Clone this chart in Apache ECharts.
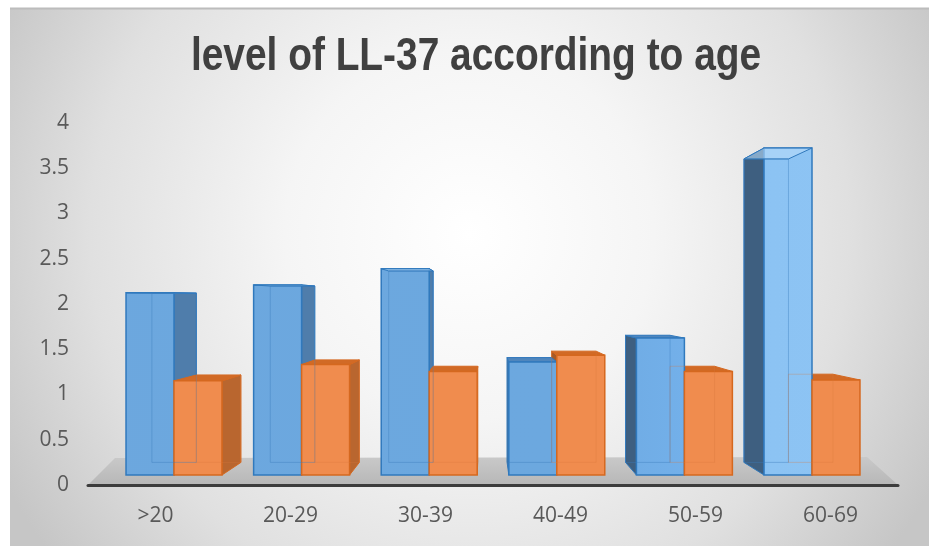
<!DOCTYPE html>
<html>
<head>
<meta charset="utf-8">
<title>level of LL-37 according to age</title>
<script src="https://cdn.jsdelivr.net/npm/echarts@6/dist/echarts.min.js"></script>
<style>
  html, body { margin: 0; padding: 0; background: #ffffff; }
  #chart { width: 929px; height: 546px; }
</style>
</head>
<body>
<div id="chart"></div>
<script>
// Age groups and LL-37 levels for the two series
const categories = ['>20', '20-29', '30-39', '40-49', '50-59', '60-69'];
const blueValues = [2.13, 2.22, 2.41, 1.32, 1.6, 3.82];
const orangeValues = [1.1, 1.29, 1.21, 1.4, 1.21, 1.11];
const yTicks = { min: 0, max: 4, interval: 0.5 };
const chartTitle = 'level of LL-37 according to age';

// Pseudo-3D projection: each box's back face is pulled toward a vanishing point
const VANISH = [485, 300];
const DEPTH = 0.072;
const BAR_FRACTION = 0.376;   // width of one column relative to its category band

function toBack(p) {
  return [p[0] + (VANISH[0] - p[0]) * DEPTH, p[1] + (VANISH[1] - p[1]) * DEPTH];
}

// light falls from the right, so fronts brighten toward the right-hand side
const blueFront = {
  type: 'linear', x: 0, y: 0, x2: 929, y2: 0, global: true,
  colorStops: [
    { offset: 0, color: '#6ca7de' },
    { offset: 0.6, color: '#6ca8df' },
    { offset: 0.74, color: '#73b0ea' },
    { offset: 0.83, color: '#8cc3f3' },
    { offset: 1, color: '#8ec5f5' }
  ]
};

const palettes = {
  blue: {
    front: blueFront, edge: '#3079bd', sideRight: '#4f7dab', sideLeft: '#3e5f80',
    top: '#4f86bd', under: 'rgba(185,220,250,0.6)', inner: 'rgba(60,125,190,0.4)'
  },
  orange: {
    front: '#f08c4e', edge: '#d5681f', sideRight: '#b9662f', sideLeft: '#a85a27',
    top: '#d16a26', under: 'rgba(250,190,150,0.5)', inner: 'rgba(215,120,60,0.3)'
  }
};

function boxRenderer(side, pal) {
  return function (params, api) {
    const cat = api.value(0);
    const val = api.value(1);
    const base = api.coord([cat, 0]);
    const top = api.coord([cat, val]);
    const w = api.size([1, 0])[0] * BAR_FRACTION;
    const x0 = side < 0 ? base[0] - w : base[0];
    const x1 = x0 + w;
    const y0 = top[1];
    const y1 = base[1];
    const fTL = [x0, y0], fTR = [x1, y0], fBR = [x1, y1], fBL = [x0, y1];
    const bTL = toBack(fTL), bTR = toBack(fTR), bBR = toBack(fBR), bBL = toBack(fBL);
    const children = [];

    // visible side wall
    if (x1 < VANISH[0]) {
      children.push({
        type: 'polygon', z2: 1,
        shape: { points: [fTR, bTR, bBR, fBR] },
        style: { fill: pal.sideRight, stroke: pal.edge, lineWidth: 1 }
      });
    } else if (x0 > VANISH[0]) {
      children.push({
        type: 'polygon', z2: 1,
        shape: { points: [fTL, bTL, bBL, fBL] },
        style: { fill: pal.sideLeft, stroke: pal.edge, lineWidth: 1 }
      });
    }

    // front face
    children.push({
      type: 'rect', z2: 5,
      shape: { x: x0, y: y0, width: w, height: y1 - y0 },
      style: { fill: pal.front, stroke: pal.edge, lineWidth: 1.5 }
    });

    // top face (seen from above) or underside glimpsed through the glassy front
    const seenFromAbove = bTL[1] < fTL[1];
    children.push({
      type: 'polygon', z2: seenFromAbove ? 2 : 6,
      shape: { points: [fTL, fTR, bTR, bTL] },
      style: {
        fill: seenFromAbove ? pal.top : pal.under,
        stroke: pal.edge, lineWidth: 1
      }
    });

    // hidden back edges showing faintly through the front face
    children.push({
      type: 'polygon', z2: 6, silent: true,
      shape: { points: [bTL, bTR, bBR, bBL] },
      style: { fill: 'none', stroke: pal.inner, lineWidth: 1 }
    });

    return { type: 'group', children: children };
  };
}

const chart = echarts.init(document.getElementById('chart'), null, { renderer: 'canvas' });

const axisFont = "'Open Sans', 'DejaVu Sans', sans-serif";

chart.setOption({
  backgroundColor: '#ffffff',
  animation: false,
  graphic: [
    {
      type: 'rect', z: -100, silent: true,
      shape: { x: 10, y: 8, width: 919, height: 538 },
      style: {
        fill: {
          type: 'radial', x: 0.5, y: 0.42, r: 0.98,
          colorStops: [
            { offset: 0, color: '#ffffff' },
            { offset: 0.35, color: '#f5f5f5' },
            { offset: 0.72, color: '#e0e0e0' },
            { offset: 1, color: '#c6c6c6' }
          ]
        }
      }
    },
    {
      type: 'line', z: -90, silent: true,
      shape: { x1: 10, y1: 8.5, x2: 929, y2: 8.5 },
      style: { stroke: '#bcbcbc', lineWidth: 2 }
    },
    {
      // floor plane under the columns
      type: 'polygon', z: -50, silent: true,
      shape: { points: [[88, 485], [898, 485], [867, 457], [115, 458]] },
      style: {
        fill: {
          type: 'linear', x: 0, y: 0, x2: 0, y2: 1,
          colorStops: [
            { offset: 0, color: '#c9c9c9' },
            { offset: 1, color: '#b7b7b7' }
          ]
        }
      }
    },
    {
      // condensed bold heading
      type: 'text', z: 10, silent: true,
      x: 476, y: 57, scaleX: 0.827,
      style: {
        text: chartTitle,
        font: "bold 47px 'Liberation Sans', sans-serif",
        fill: '#404040',
        align: 'center',
        verticalAlign: 'middle'
      }
    }
  ],
  grid: [
    { left: 88, right: 31, top: 123, bottom: 61 },
    { left: 110.2, right: 53.2, top: 132.6, bottom: 71 }
  ],
  xAxis: [
    {
      type: 'category', gridIndex: 0, data: categories,
      axisLine: { show: true, lineStyle: { color: '#3c3c3c', width: 3 } },
      axisTick: { show: false },
      axisLabel: { color: '#595959', fontSize: 21, fontFamily: axisFont, margin: 21 },
      splitLine: { show: false }
    },
    {
      type: 'category', gridIndex: 1, data: categories, show: false
    }
  ],
  yAxis: [
    {
      type: 'value', gridIndex: 0,
      min: yTicks.min, max: yTicks.max, interval: yTicks.interval,
      axisLine: { show: false }, axisTick: { show: false },
      splitLine: { show: false },
      axisLabel: { color: '#595959', fontSize: 21, fontFamily: axisFont, margin: 19 }
    },
    {
      type: 'value', gridIndex: 1,
      min: yTicks.min, max: yTicks.max, show: false
    }
  ],
  series: [
    {
      name: 'blue', type: 'custom', xAxisIndex: 1, yAxisIndex: 1,
      renderItem: boxRenderer(-1, palettes.blue),
      data: blueValues.map((v, i) => [i, v])
    },
    {
      name: 'orange', type: 'custom', xAxisIndex: 1, yAxisIndex: 1,
      renderItem: boxRenderer(1, palettes.orange),
      data: orangeValues.map((v, i) => [i, v])
    }
  ]
});
</script>
</body>
</html>
